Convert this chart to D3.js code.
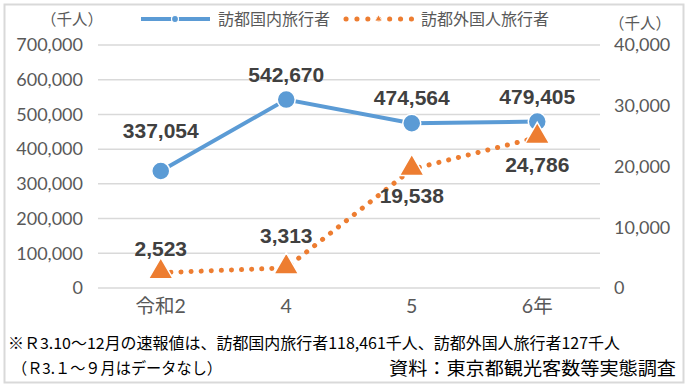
<!DOCTYPE html>
<html>
<head>
<meta charset="utf-8">
<script src="https://cdn.jsdelivr.net/npm/d3@7"></script>
<style>
  body { margin: 0; background: #fff; }
  svg { display: block; }
</style>
</head>
<body>
<div id="chart"></div>
<script>
// data
var categories = ["令和2", "4", "5", "6年"];
var domestic = [337054, 542670, 474564, 479405];   // 訪都国内旅行者 (left axis)
var foreign = [2523, 3313, 19538, 24786];          // 訪都外国人旅行者 (right axis)
var leftTicks = [0, 100000, 200000, 300000, 400000, 500000, 600000, 700000];
var rightTicks = [0, 10000, 20000, 30000, 40000];
var seriesNames = ["訪都国内旅行者", "訪都外国人旅行者"];

var W = 688, H = 387;
var margin = {top: 45, right: 88, bottom: 99, left: 98},
    width = W - margin.left - margin.right,
    height = H - margin.top - margin.bottom;

var blue = "#5b9bd5", orange = "#ed7d31";
var latin = "Lato, 'Noto Sans CJK JP', sans-serif";
var jp = "'Noto Sans CJK JP', sans-serif";

var svg = d3.select("#chart").append("svg")
  .attr("width", W)
  .attr("height", H);

// outer frame
svg.append("rect")
  .attr("x", 4.5).attr("y", 4.5)
  .attr("width", W - 9).attr("height", H - 9)
  .attr("fill", "none")
  .attr("stroke", "#d9d9d9")
  .attr("stroke-width", 2);

var g = svg.append("g")
  .attr("transform", "translate(" + margin.left + "," + margin.top + ")");

var x = d3.scaleBand()
  .domain(categories)
  .range([0, width]);

var yL = d3.scaleLinear().domain([0, 700000]).range([height, 0]);
var yR = d3.scaleLinear().domain([0, 40000]).range([height, 0]);

// gridlines
g.append("g")
  .selectAll("line")
  .data(leftTicks)
  .enter().append("line")
    .attr("x1", 0).attr("x2", width)
    .attr("y1", function(d) { return yL(d); })
    .attr("y2", function(d) { return yL(d); })
    .attr("stroke", "#d9d9d9")
    .attr("stroke-width", 1.5);

// left axis
var axL = g.append("g")
  .call(d3.axisLeft(yL).tickValues(leftTicks).tickSize(0).tickPadding(15).tickFormat(d3.format(",")));
axL.select(".domain").remove();
axL.selectAll("text")
  .attr("font-family", latin).attr("font-size", 18).attr("fill", "#595959");

// right axis
var axR = g.append("g")
  .attr("transform", "translate(" + width + ",0)")
  .call(d3.axisRight(yR).tickValues(rightTicks).tickSize(0).tickPadding(14).tickFormat(d3.format(",")));
axR.select(".domain").remove();
axR.selectAll("text")
  .attr("font-family", latin).attr("font-size", 18).attr("fill", "#595959");

// x axis
var axX = g.append("g")
  .attr("transform", "translate(0," + height + ")")
  .call(d3.axisBottom(x).tickSize(0).tickPadding(11));
axX.select(".domain").remove();
axX.selectAll("text")
  .attr("font-family", latin).attr("font-size", 19.5).attr("fill", "#595959");

// unit labels
svg.append("text").attr("x", 72).attr("y", 25).attr("text-anchor", "middle")
  .attr("font-family", jp).attr("font-size", 15.5).attr("fill", "#595959").text("（千人）");
svg.append("text").attr("x", 640).attr("y", 29).attr("text-anchor", "middle")
  .attr("font-family", jp).attr("font-size", 15.5).attr("fill", "#595959").text("（千人）");

var cx = function(i) { return x(categories[i]) + x.bandwidth() / 2; };

// domestic line
var lineL = d3.line()
  .x(function(d, i) { return cx(i); })
  .y(function(d) { return yL(d); });

g.append("path")
  .datum(domestic)
  .attr("d", lineL)
  .attr("fill", "none")
  .attr("stroke", blue)
  .attr("stroke-width", 4);

// foreign line (dotted)
var lineR = d3.line()
  .x(function(d, i) { return cx(i); })
  .y(function(d) { return yR(d); });

g.append("path")
  .datum(foreign)
  .attr("d", lineR)
  .attr("fill", "none")
  .attr("stroke", orange)
  .attr("stroke-width", 5)
  .attr("stroke-linecap", "round")
  .attr("stroke-dasharray", "0.1,10");

// markers
g.selectAll(".dot")
  .data(domestic)
  .enter().append("circle")
    .attr("cx", function(d, i) { return cx(i); })
    .attr("cy", function(d) { return yL(d); })
    .attr("r", 9)
    .attr("fill", blue)
    .attr("stroke", "#fff")
    .attr("stroke-width", 1.5);

var tri = d3.symbol().type(d3.symbolTriangle).size(260);
g.selectAll(".tri")
  .data(foreign)
  .enter().append("path")
    .attr("d", tri)
    .attr("transform", function(d, i) { return "translate(" + cx(i) + "," + (yR(d) - 1) + ")"; })
    .attr("fill", orange)
    .attr("stroke", "#fff")
    .attr("stroke-width", 1.5);

// data labels
var domOff = [-33, -18, -18, -18];
var forOff = [-17, -25, 34, 35];
var lblFont = "'Liberation Sans', Arial, sans-serif";
g.selectAll(".lblL")
  .data(domestic)
  .enter().append("text")
    .attr("x", function(d, i) { return cx(i); })
    .attr("y", function(d, i) { return yL(d) + domOff[i]; })
    .attr("text-anchor", "middle")
    .attr("font-family", lblFont)
    .attr("font-weight", "bold")
    .attr("font-size", 21)
    .attr("fill", "#404040")
    .text(function(d) { return d3.format(",")(d); });

g.selectAll(".lblR")
  .data(foreign)
  .enter().append("text")
    .attr("x", function(d, i) { return cx(i); })
    .attr("y", function(d, i) { return yR(d) + forOff[i]; })
    .attr("text-anchor", "middle")
    .attr("font-family", lblFont)
    .attr("font-weight", "bold")
    .attr("font-size", 21)
    .attr("fill", "#404040")
    .text(function(d) { return d3.format(",")(d); });

// legend
var leg = svg.append("g");
leg.append("line").attr("x1", 141).attr("x2", 210).attr("y1", 19).attr("y2", 19)
  .attr("stroke", blue).attr("stroke-width", 4);
leg.append("circle").attr("cx", 175).attr("cy", 19).attr("r", 3.5)
  .attr("fill", blue).attr("stroke", "#fff").attr("stroke-width", 1.2);
leg.append("text").attr("x", 218).attr("y", 25)
  .attr("font-family", jp).attr("font-size", 16).attr("fill", "#595959").text(seriesNames[0]);

leg.append("line").attr("x1", 346).attr("x2", 412).attr("y1", 19).attr("y2", 19)
  .attr("stroke", orange).attr("stroke-width", 5).attr("stroke-linecap", "round")
  .attr("stroke-dasharray", "0.1,10.8");
leg.append("path").attr("d", d3.symbol().type(d3.symbolTriangle).size(22))
  .attr("transform", "translate(378.5,19)")
  .attr("fill", orange).attr("stroke", "#fff").attr("stroke-width", 0.8);
leg.append("text").attr("x", 421).attr("y", 25)
  .attr("font-family", jp).attr("font-size", 16).attr("fill", "#595959").text(seriesNames[1]);

// notes
svg.append("text").attr("x", 8).attr("y", 349)
  .attr("font-family", jp).attr("font-size", 15.5).attr("fill", "#000")
  .attr("textLength", 612).attr("lengthAdjust", "spacingAndGlyphs")
  .text("※Ｒ3.10～12月の速報値は、訪都国内旅行者118,461千人、訪都外国人旅行者127千人");
svg.append("text").attr("x", 12).attr("y", 374)
  .attr("font-family", jp).attr("font-size", 15.5).attr("fill", "#000")
  .attr("textLength", 210).attr("lengthAdjust", "spacingAndGlyphs")
  .text("（Ｒ3.１～９月はデータなし）");
svg.append("text").attr("x", 676).attr("y", 375).attr("text-anchor", "end")
  .attr("font-family", jp).attr("font-size", 18).attr("fill", "#000")
  .attr("textLength", 287).attr("lengthAdjust", "spacingAndGlyphs")
  .text("資料：東京都観光客数等実態調査");
</script>
</body>
</html>
